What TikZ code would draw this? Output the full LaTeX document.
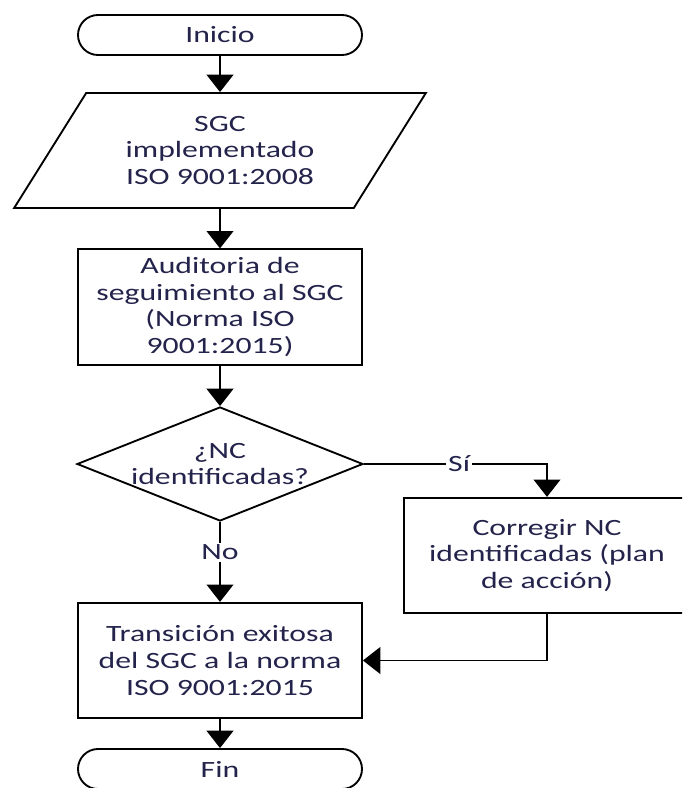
\documentclass[tikz,border=0pt]{standalone}
\usepackage{fontspec}
\setmainfont{Carlito}[FakeStretch=1.36]
\usetikzlibrary{shapes.geometric,arrows.meta}

\definecolor{txtblue}{RGB}{35,35,75}

\tikzset{
    flow base/.style={
        draw,line width=1.4pt,
        text=txtblue,align=center,inner sep=0pt,
        font=\fontsize{17.5}{20}\selectfont
    },
    terminal/.style={flow base,rounded corners=15pt,minimum width=213pt,minimum height=30pt},
    process/.style={flow base,minimum width=213pt,minimum height=86.5pt},
    data in/.style={
        flow base,trapezium,trapezium stretches=true,
        trapezium left angle=53.5,trapezium right angle=126.5,
        minimum width=309.75pt,minimum height=86.25pt
    },
    decision/.style={flow base,diamond,minimum width=214.5pt,minimum height=85.5pt},
    flow/.style={line width=1.4pt,-{Triangle[width=20pt,length=13pt]}},
    answer/.style={fill=white,text=txtblue,inner sep=1.5pt,font=\fontsize{17.5}{20}\selectfont}
}

\begin{document}
\begin{tikzpicture}[x=0.75pt,y=-0.75pt]
        \useasboundingbox (0,0) rectangle (682,788);
        \clip (0,0) rectangle (682,788);
        \fill[white] (0,0) rectangle (682,788);
        % main column
        \node[terminal] (ini) at (220,35) {Inicio};
        \node[data in] (sgc) at (220,150.5) {SGC\\implementado\\ISO 9001:2008};
        \node[process] (aud) at (220,307) {Auditoria de\\seguimiento al SGC\\(Norma ISO\\9001:2015)};
        \node[decision] (dec) at (220,464) {};
        \node[flow base,draw=none] (dec text) at (dec) {¿NC\\identificadas?};
        \node[process] (trans) at (220,660.5) {Transición exitosa\\del SGC a la norma\\ISO 9001:2015};
        \node[terminal] (fin) at (220,769) {Fin};
        % side branch
        \node[process,minimum width=214.5pt] (fix) at (547,555.5) {Corregir NC\\identificadas (plan\\de acción)};
        \draw[flow] (ini) -- (sgc);
        \draw[flow] (sgc) -- (aud);
        \draw[flow] (aud) -- (dec);
        \draw[flow] (dec) -- node[answer,pos=.38] {No} (trans);
        \draw[flow] (dec) -| node[answer,pos=.26] {Sí} (fix);
        \draw[flow] (fix) |- (trans);
        \draw[flow] (trans) -- (fin);
    \end{tikzpicture}
\end{document}
